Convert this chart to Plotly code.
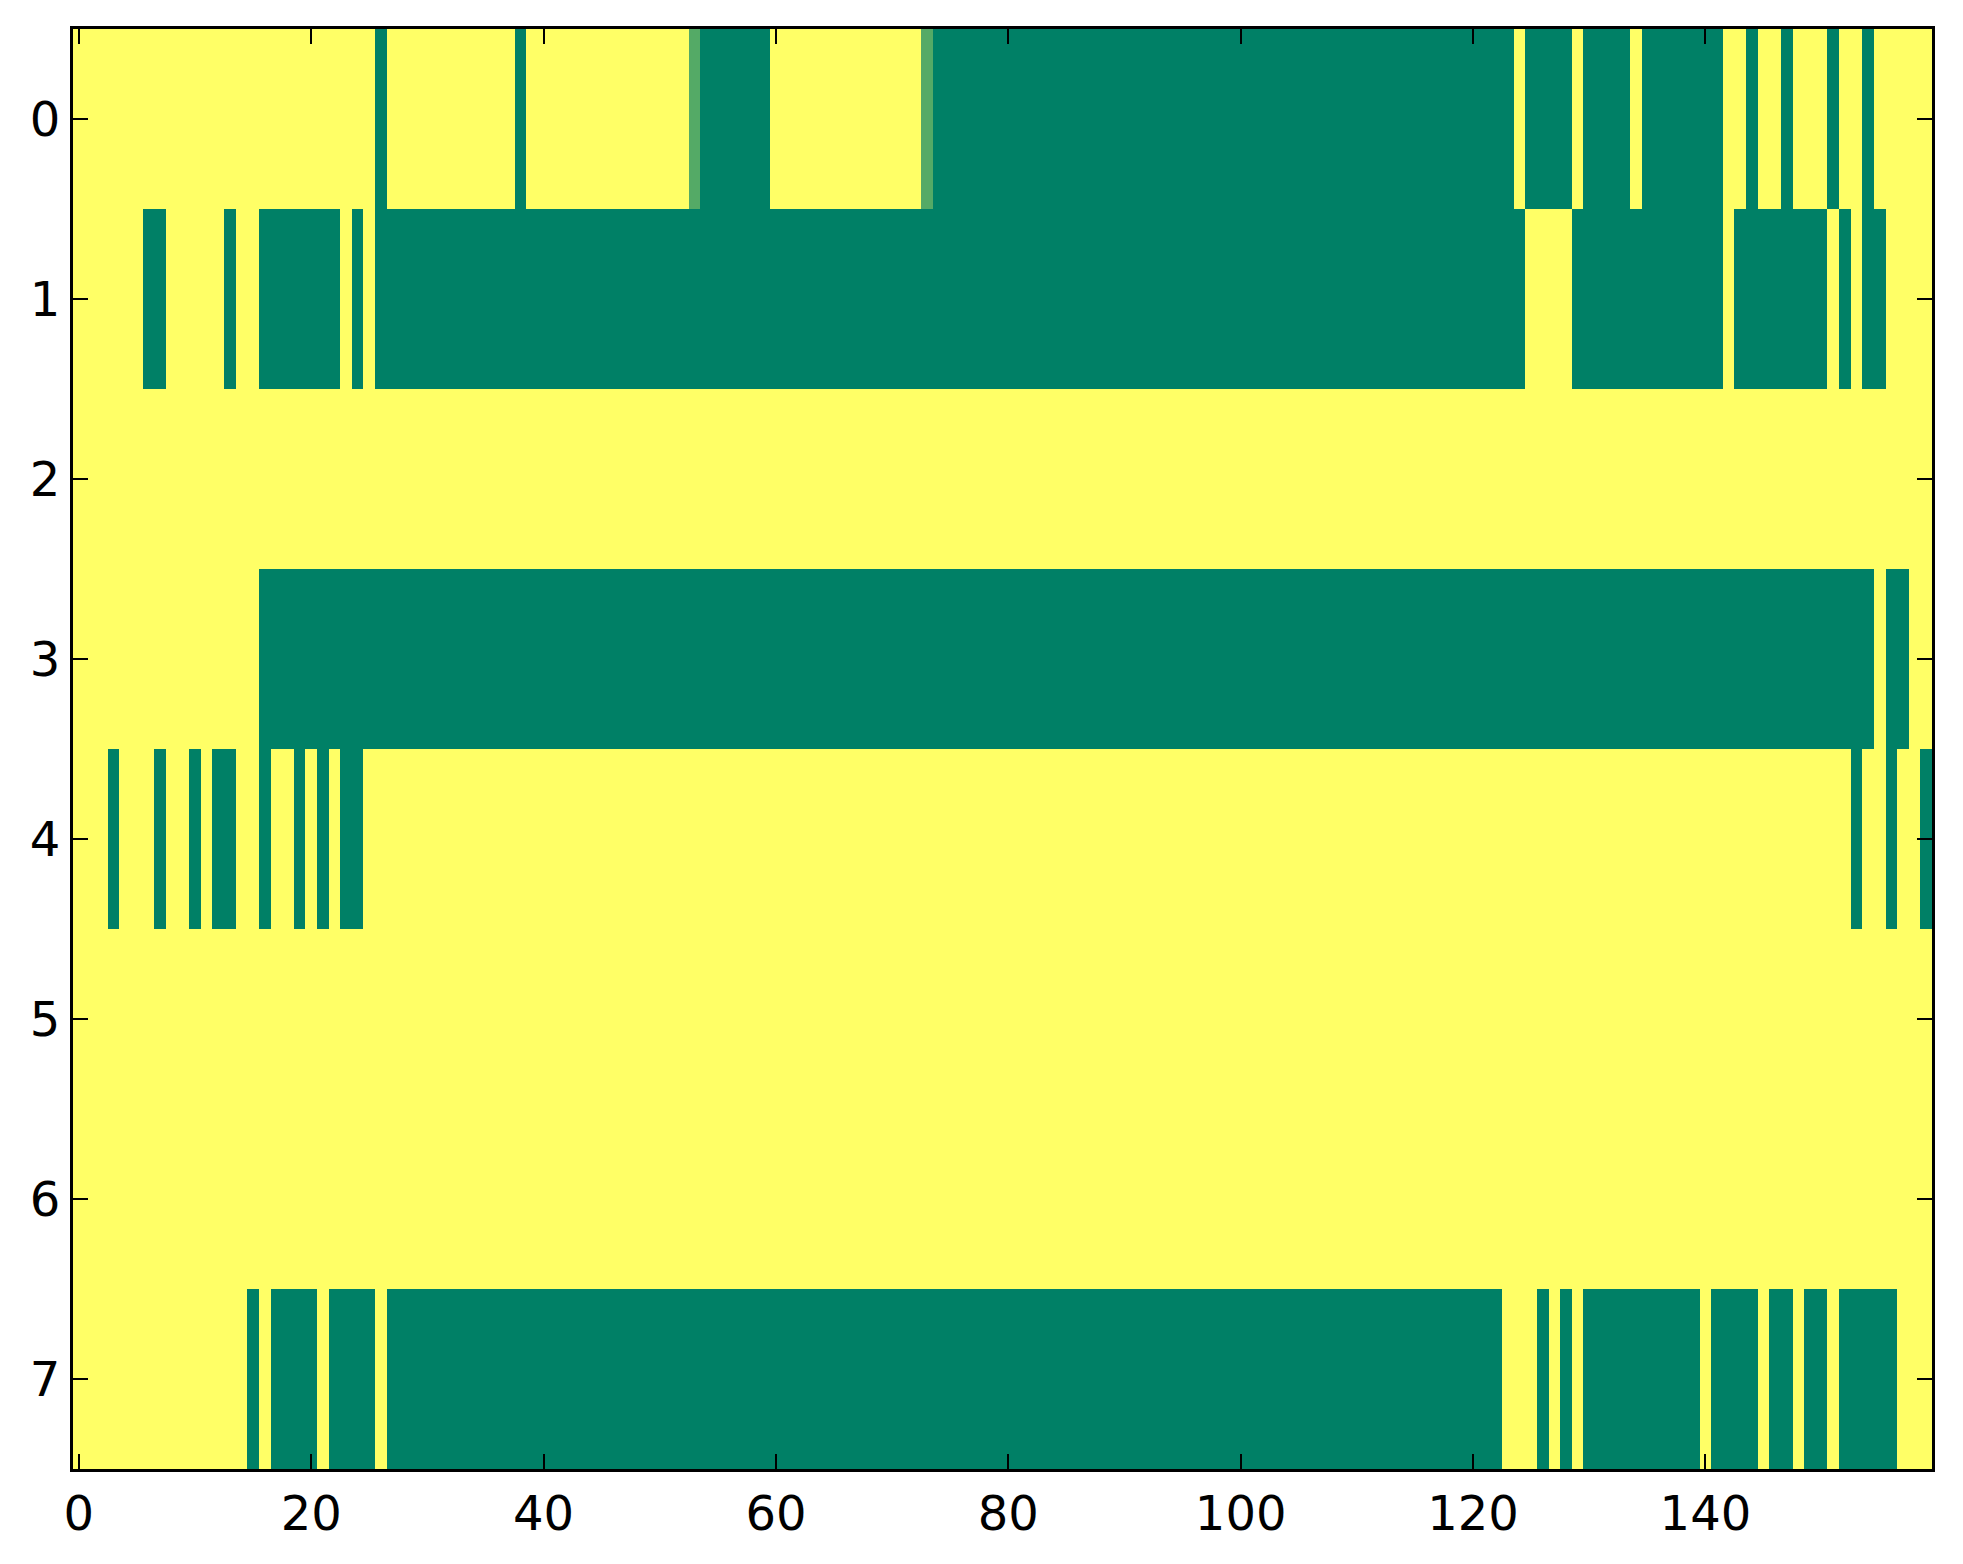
import plotly.graph_objects as go

# 8 rows x 160 columns, value 1 = yellow, 0 = dark green (summer colormap)
n_cols = 160
row_labels = [0, 1, 2, 3, 4, 5, 6, 7]

# runs of dark-green (value 0) cells per row, as (first, last) column
row0_green = [(26, 26), (38, 38), (54, 59), (74, 123), (125, 128), (130, 133),
              (135, 141), (144, 144), (147, 147), (151, 151), (154, 154)]
row1_green = [(6, 7), (13, 13), (16, 22), (24, 24), (26, 124), (129, 141),
              (143, 150), (152, 152), (154, 155)]
row2_green = []
row3_green = [(16, 154), (156, 157)]
row4_green = [(3, 3), (7, 7), (10, 10), (12, 13), (16, 16), (19, 19), (21, 21),
              (23, 24), (153, 153), (156, 156), (159, 159)]
row5_green = []
row6_green = []
row7_green = [(15, 15), (17, 20), (22, 25), (27, 122), (126, 126), (128, 128),
              (130, 139), (141, 144), (146, 147), (149, 150), (152, 156)]

# the two in-between cells of row 0
row0_mid = {53: 0.33, 73: 0.33}

green_runs = [row0_green, row1_green, row2_green, row3_green,
              row4_green, row5_green, row6_green, row7_green]

z = []
for runs in green_runs:
    row = [1.0] * n_cols
    for a, b in runs:
        for c in range(a, b + 1):
            row[c] = 0.0
    z.append(row)
for c, v in row0_mid.items():
    z[0][c] = v

fig = go.Figure(go.Heatmap(
    z=z, x=list(range(n_cols)), y=row_labels,
    colorscale=[[0, '#008066'], [1, '#ffff66']], zmin=0, zmax=1,
    showscale=False, hoverinfo='skip'))

axis_style = dict(showline=True, linecolor='black', linewidth=3, mirror='allticks',
                  ticks='inside', ticklen=15, tickwidth=2, tickcolor='black',
                  showgrid=False, zeroline=False,
                  tickfont=dict(family='DejaVu Sans', size=48, color='black'))

fig.update_xaxes(range=[-0.5, 159.5], tickvals=[0, 20, 40, 60, 80, 100, 120, 140], **axis_style)
fig.update_yaxes(range=[7.5, -0.5], tickvals=row_labels, **axis_style)

# page body adds an 8px margin, so margins are trimmed by that amount
fig.update_layout(width=1963, height=1564, margin=dict(l=65, r=39, t=21, b=103),
                  paper_bgcolor='white', plot_bgcolor='white')

fig.write_html("out.html")
